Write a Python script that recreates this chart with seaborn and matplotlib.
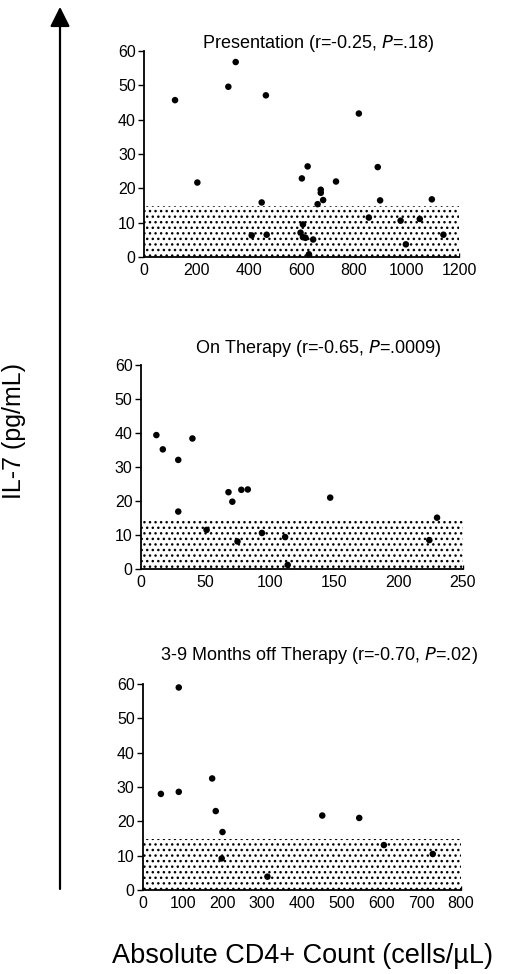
import numpy as np
import pandas as pd
import matplotlib
matplotlib.use('Agg')
import matplotlib.pyplot as plt
import seaborn as sns

sns.set_style('ticks')
plt.rcParams['font.family'] = ['Liberation Sans', 'DejaVu Sans']
plt.rcParams['hatch.linewidth'] = 1.0
for key in ['text.color', 'axes.labelcolor', 'xtick.color', 'ytick.color', 'axes.edgecolor']:
    plt.rcParams[key] = 'black'

# Presentation
pres_cd4 = [118, 203, 321, 349, 448, 410, 464, 467, 601, 623, 596, 605, 605, 615, 628,
            644, 661, 673, 673, 682, 731, 818, 856, 890, 899, 977, 997, 1050, 1096, 1140]
pres_il7 = [45.7, 21.7, 49.6, 56.8, 15.9, 6.3, 47.1, 6.5, 22.9, 26.4, 7.1, 9.5, 5.8, 5.6, 0.8,
            5.1, 15.4, 19.6, 18.7, 16.6, 22.0, 41.8, 11.5, 26.2, 16.5, 10.6, 3.7, 11.1, 16.8, 6.5]

# On therapy
ther_cd4 = [12, 17, 29, 29, 40, 51, 68, 71, 75, 78, 83, 94, 112, 114, 147, 224, 230]
ther_il7 = [39.4, 35.2, 32.1, 16.9, 38.4, 11.5, 22.6, 19.8, 8.1, 23.3, 23.4, 10.6, 9.4, 1.2,
            21.0, 8.5, 15.1]

# 3-9 months off therapy
off_cd4 = [45, 90, 90, 174, 183, 200, 198, 313, 451, 544, 606, 729]
off_il7 = [28.0, 59.0, 28.6, 32.5, 23.0, 16.9, 9.2, 3.9, 21.7, 21.0, 13.1, 10.5]

normal_upper = 15

panels = [
    ('Presentation (r=-0.25, $\\it{P}$=.18)', pres_cd4, pres_il7, 1200, 200,
     [0.277, 0.7361, 0.606, 0.2115], 0.955),
    ('On Therapy (r=-0.65, $\\it{P}$=.0009)', ther_cd4, ther_il7, 250, 50,
     [0.271, 0.4158, 0.619, 0.2094], 0.642),
    ('3-9 Months off Therapy (r=-0.70, $\\it{P}$=.02)', off_cd4, off_il7, 800, 100,
     [0.275, 0.0862, 0.6115, 0.2115], 0.327),
]

fig = plt.figure(figsize=(5.2, 9.74), dpi=100)

for title, xs, ys, xmax, xstep, pos, ty in panels:
    ax = fig.add_axes(pos)
    df = pd.DataFrame({'cd4': xs, 'il7': ys})
    ax.fill_between([0, xmax], 0, normal_upper, facecolor='white',
                    edgecolor='black', hatch='...', linewidth=0, zorder=1)
    sns.scatterplot(data=df, x='cd4', y='il7', ax=ax, color='black', s=22,
                    edgecolor='none', zorder=3, clip_on=False)
    ax.set_xlim(0, xmax)
    ax.set_ylim(0, 60)
    ax.set_xticks(np.arange(0, xmax + 1, xstep))
    ax.set_yticks(np.arange(0, 61, 10))
    ax.tick_params(axis='y', direction='out', length=4, width=1, labelsize=11.5, pad=2)
    ax.tick_params(axis='x', direction='in', length=3, width=1, labelsize=11.5, pad=4)
    ax.set_xlabel('')
    ax.set_ylabel('')
    sns.despine(ax=ax)
    for sp in ['left', 'bottom']:
        ax.spines[sp].set_linewidth(1.3)
    fig.text(0.613, ty, title, ha='center', va='center', fontsize=13)

ax.annotate('', xy=(0.1154, 0.993), xycoords='figure fraction',
            xytext=(0.1154, 0.0873), textcoords='figure fraction',
            arrowprops=dict(arrowstyle='-|>', lw=1.6, color='black',
                            mutation_scale=30, shrinkA=0, shrinkB=0),
            annotation_clip=False)

fig.text(0.027, 0.557, 'IL-7 (pg/mL)', rotation=90, ha='center', va='center', fontsize=18)
fig.text(0.581, 0.018, 'Absolute CD4+ Count (cells/\u00b5L)', ha='center', va='center',
         fontsize=19.5)

fig.savefig('out.png', dpi=100)
